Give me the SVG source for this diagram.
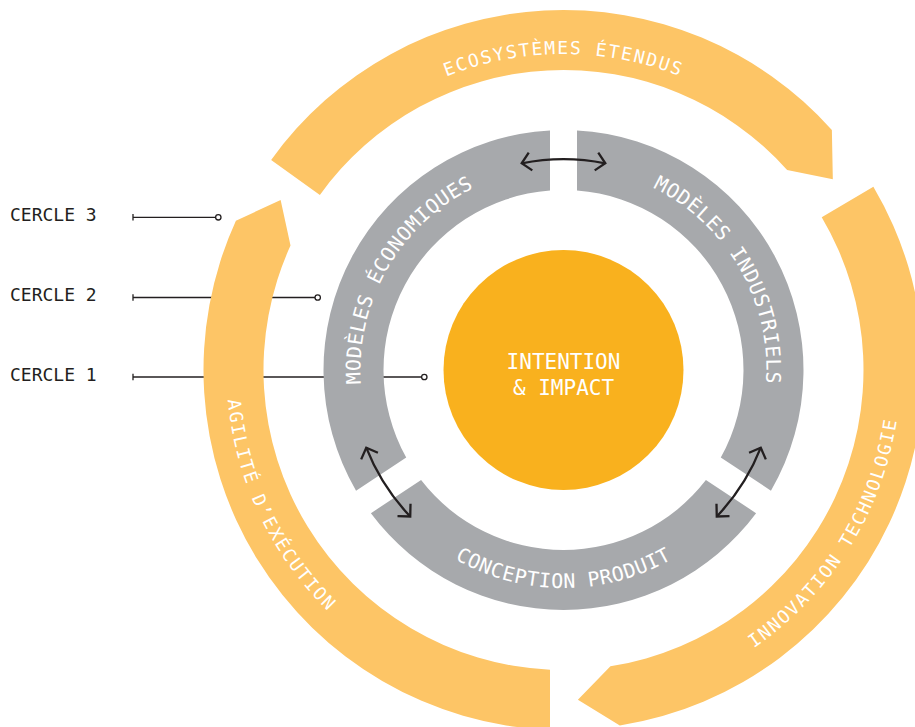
<svg xmlns="http://www.w3.org/2000/svg" xmlns:xlink="http://www.w3.org/1999/xlink" width="915" height="727" viewBox="0 0 915 727">
  <style>
    .mono { font-family: "DejaVu Sans Mono", "Liberation Mono", monospace; }
    .yel { fill: #fdc566; }
    .gry { fill: #a7a9ac; }
    .core { fill: #f9b11e; }
    .ytxt { fill: #ffffff; font-size: 18px; letter-spacing: 1.8px; }
    .gtxt { fill: #ffffff; font-size: 20px; letter-spacing: 0.6px; }
    .ctxt { fill: #ffffff; font-size: 21px; }
    .lbl { fill: #231f20; font-size: 18px; }
    .lead { stroke: #231f20; stroke-width: 1.3; fill: none; }
    .dot { stroke: #231f20; stroke-width: 1.3; fill: #ffffff; }
    .arr { stroke: #231f20; stroke-width: 2.3; fill: none; marker-start: url(#ah); marker-end: url(#ah); }
  </style>
  <defs>
    <marker id="ah" viewBox="-14 -12 18 24" refX="0" refY="0" markerWidth="18" markerHeight="24" markerUnits="userSpaceOnUse" orient="auto-start-reverse" overflow="visible">
      <path d="M -9 -9 L 0 0 L -9 9" fill="none" stroke="#231f20" stroke-width="2.3" stroke-linejoin="miter"/>
    </marker>
    <path id="p-eco" d="M 252.30 315.13 A 316 316 0 0 1 874.70 315.13"/>
    <path id="p-agi" d="M 367.80 95.64 A 337 337 0 0 0 653.56 694.74"/>
    <path id="p-inn" d="M 437.26 682.46 A 337 337 0 0 0 789.00 119.56"/>
    <path id="p-meco" d="M 433.01 525.51 A 203 203 0 0 1 632.93 179.24"/>
    <path id="p-mind" d="M 494.07 179.24 A 203 203 0 0 1 693.99 525.51"/>
    <path id="p-conc" d="M 348.81 407.86 A 218 218 0 0 0 778.19 407.86"/>
  </defs>

  <g id="legend">
    <g id="legend-cercle-3">
      <text class="mono lbl" x="10" y="221">CERCLE 3</text>
      <line class="lead" x1="133" y1="217.3" x2="215.5" y2="217.3"/>
      <line class="lead" x1="133" y1="214" x2="133" y2="220.6"/>
      <circle class="dot" cx="218.3" cy="217.3" r="2.7"/>
    </g>
    <g id="legend-cercle-2">
      <text class="mono lbl" x="10" y="301">CERCLE 2</text>
      <line class="lead" x1="133" y1="297.5" x2="315" y2="297.5"/>
      <line class="lead" x1="133" y1="294.2" x2="133" y2="300.8"/>
      <circle class="dot" cx="317.7" cy="297.5" r="2.7"/>
    </g>
    <g id="legend-cercle-1">
      <text class="mono lbl" x="10" y="381">CERCLE 1</text>
      <line class="lead" x1="133" y1="377" x2="421.6" y2="377"/>
      <line class="lead" x1="133" y1="373.7" x2="133" y2="380.3"/>
      <circle class="dot" cx="424.3" cy="377" r="2.7"/>
    </g>
  </g>

  <g id="ecosystemes-etendus">
    <path class="yel" d="M 271.15 159.93 A 360 360 0 0 1 831.87 130.05 L 832.83 179.31 L 787.14 170.04 A 300 300 0 0 0 319.88 194.94 Z"/>
    <text class="mono ytxt"><textPath href="#p-eco" xlink:href="#p-eco" startOffset="50%" text-anchor="middle">ECOSYSTÈMES ÉTENDUS</textPath></text>
  </g>
  <g id="innovation-technologie">
    <path class="yel" d="M 873.37 186.75 A 360 360 0 0 1 619.82 725.57 L 577.89 699.69 L 610.43 666.31 A 300 300 0 0 0 821.72 217.29 Z"/>
    <text class="mono ytxt"><textPath href="#p-inn" xlink:href="#p-inn" startOffset="50%" text-anchor="middle">INNOVATION TECHNOLOGIE</textPath></text>
  </g>
  <g id="agilite-execution">
    <path class="yel" d="M 550 729.75 A 360 360 0 0 1 235.91 220.71 L 280.63 200.04 L 290.51 245.59 A 300 300 0 0 0 550 669.70 Z"/>
    <text class="mono ytxt"><textPath href="#p-agi" xlink:href="#p-agi" startOffset="50%" text-anchor="middle">AGILITÉ D’EXÉCUTION</textPath></text>
  </g>

  <g id="modeles-economiques">
    <path class="gry" d="M 550 130.38 A 240 240 0 0 0 356.04 490.64 L 406.23 457.54 A 180 180 0 0 1 550 190.51 Z"/>
    <text class="mono gtxt"><textPath href="#p-meco" xlink:href="#p-meco" startOffset="50%" text-anchor="middle">MODÈLES ÉCONOMIQUES</textPath></text>
  </g>
  <g id="modeles-industriels">
    <path class="gry" d="M 577 130.38 A 240 240 0 0 1 770.96 490.64 L 720.77 457.54 A 180 180 0 0 0 577 190.51 Z"/>
    <text class="mono gtxt"><textPath href="#p-mind" xlink:href="#p-mind" startOffset="50%" text-anchor="middle">MODÈLES INDUSTRIELS</textPath></text>
  </g>
  <g id="conception-produit">
    <path class="gry" d="M 370.90 513.18 A 240 240 0 0 0 756.10 513.18 L 705.91 480.08 A 180 180 0 0 1 421.09 480.08 Z"/>
    <text class="mono gtxt"><textPath href="#p-conc" xlink:href="#p-conc" startOffset="50%" text-anchor="middle">CONCEPTION PRODUIT</textPath></text>
  </g>

  <g id="intention-impact">
    <circle class="core" cx="563.5" cy="370" r="120"/>
    <text class="mono ctxt" x="563.5" y="369" text-anchor="middle">INTENTION</text>
    <text class="mono ctxt" x="563.5" y="395" text-anchor="middle">&amp; IMPACT</text>
  </g>

  <g id="connectors">
    <path class="arr" d="M 521.7 163.3 A 211 211 0 0 1 605.3 163.3"/>
    <path class="arr" d="M 366.25 447.70 A 212 212 0 0 0 410.23 516.47"/>
    <path class="arr" d="M 760.75 447.70 A 212 212 0 0 1 716.77 516.47"/>
  </g>
</svg>
